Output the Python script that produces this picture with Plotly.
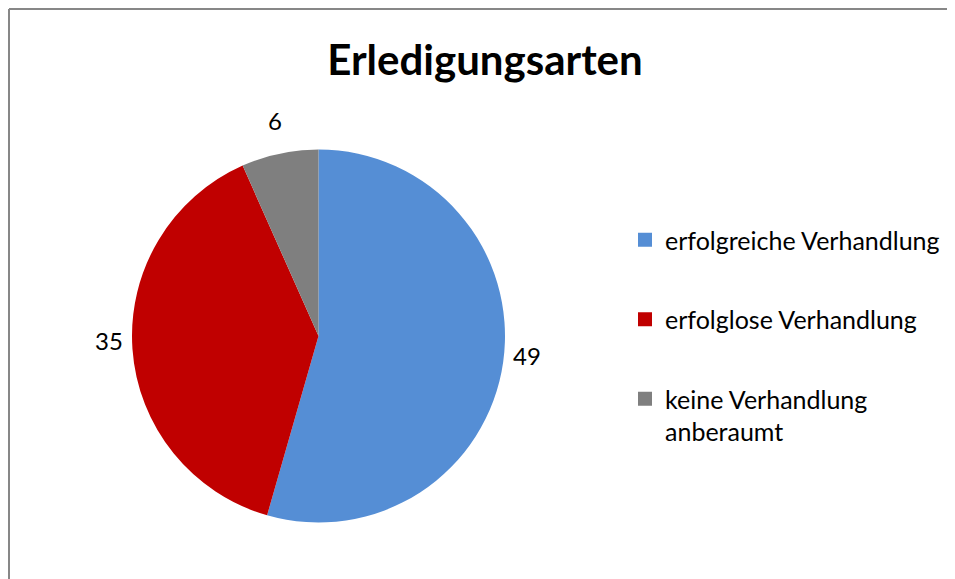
import math
import plotly.graph_objects as go

labels = ["erfolgreiche Verhandlung", "erfolglose Verhandlung", "keine Verhandlung<br>anberaumt"]
values = [49, 35, 6]
colors = ["#558ED5", "#C00000", "#7F7F7F"]
title_text = "Erledigungsarten"

W, H = 955, 579
OFF = 8  # page body margin offset
FONT = "Lato, Carlito, Calibri, sans-serif"

# pie geometry (page pixels)
CX, CY, R = 318.5, 336.0, 186.5


def px(X):
    return (X - OFF) / W


def py(Y):
    return 1 - (Y - OFF) / H


fig = go.Figure()
fig.add_trace(go.Pie(
    labels=labels,
    values=values,
    marker=dict(colors=colors, line=dict(width=0)),
    sort=False,
    direction="clockwise",
    rotation=0,
    textinfo="none",
    showlegend=False,
    domain=dict(x=[px(CX - R), px(CX + R)], y=[py(CY + R), py(CY - R)]),
))

# legend entries (one group each so they can be spaced)
for lab, col in zip(labels, colors):
    fig.add_trace(go.Scatter(
        x=[None], y=[None], mode="markers", name=lab, legendgroup=lab,
        marker=dict(symbol="square", size=14, color=col),
        hoverinfo="skip",
    ))

# value labels computed from slice mid-angles
total = sum(values)
cum = 0
annotations = []
for v in values:
    mid = (cum + v / 2) / total * 2 * math.pi
    cum += v
    rr = R + 24
    X = CX + rr * math.sin(mid)
    Y = CY - rr * math.cos(mid)
    annotations.append(dict(
        x=px(X), y=py(Y), xref="paper", yref="paper", text=str(v), showarrow=False,
        xanchor="center", yanchor="middle", yshift=10,
        font=dict(size=24, family=FONT, color="#000000"),
    ))

fig.update_layout(
    width=W, height=H,
    margin=dict(l=0, r=0, t=0, b=0),
    paper_bgcolor="white",
    plot_bgcolor="white",
    font=dict(family=FONT, color="#000000"),
    title=dict(text="<b>" + title_text + "</b>", x=px(485), xanchor="center",
               y=py(60), yanchor="middle", font=dict(size=42, family=FONT)),
    xaxis=dict(visible=False),
    yaxis=dict(visible=False),
    legend=dict(x=px(665 - 40), xanchor="left", y=py(237 - 20), yanchor="top",
                valign="top", font=dict(size=25, family=FONT), bgcolor="rgba(0,0,0,0)",
                tracegroupgap=44, traceorder="grouped"),
    showlegend=True,
    annotations=annotations,
    shapes=[
        dict(type="line", xref="paper", yref="paper", x0=1 / W, x1=1.01, y0=1 - 1 / H, y1=1 - 1 / H,
             line=dict(color="#878787", width=2)),
        dict(type="line", xref="paper", yref="paper", x0=1 / W, x1=1 / W, y0=1 - 1 / H, y1=-0.01,
             line=dict(color="#878787", width=2)),
    ],
)

fig.write_html("out.html")
